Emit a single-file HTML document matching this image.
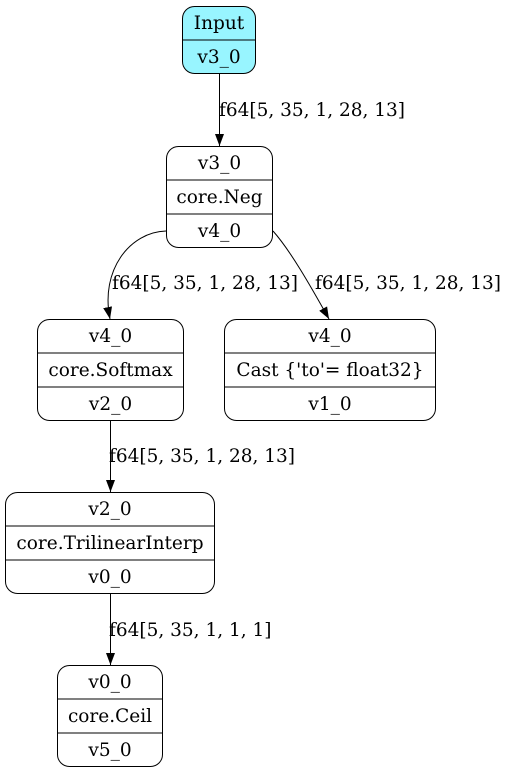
<!DOCTYPE html>
<html><head><meta charset="utf-8"><style>
html,body{margin:0;padding:0;background:#fff;}
svg text{font-family:"DejaVu Serif",serif;font-size:18.5px;fill:#000;}
</style></head><body>
<svg width="510" height="774" viewBox="0 0 510 774" xmlns="http://www.w3.org/2000/svg">
<defs><marker id="a" markerWidth="12" markerHeight="10" refX="12" refY="5" orient="auto" markerUnits="userSpaceOnUse" viewBox="0 0 12 10"><path d="M0,0.5 L12,5 L0,9.5 z" fill="#000"/></marker></defs>
<g fill="none" stroke="#000" stroke-width="1">
<rect x="182.5" y="6.5" width="73" height="67" rx="12" fill="#98f5ff"/>
<line x1="182.5" y1="40" x2="255.5" y2="40"/>
<rect x="166.5" y="146.5" width="106" height="101" rx="12"/>
<line x1="166.5" y1="180" x2="272.5" y2="180"/><line x1="166.5" y1="214" x2="272.5" y2="214"/>
<rect x="37.5" y="319.5" width="146" height="101" rx="12"/>
<line x1="37.5" y1="353" x2="183.5" y2="353"/><line x1="37.5" y1="387" x2="183.5" y2="387"/>
<rect x="224.5" y="319.5" width="211" height="101" rx="12"/>
<line x1="224.5" y1="353" x2="435.5" y2="353"/><line x1="224.5" y1="387" x2="435.5" y2="387"/>
<rect x="5.5" y="492.5" width="209" height="101" rx="12"/>
<line x1="5.5" y1="526" x2="214.5" y2="526"/><line x1="5.5" y1="560" x2="214.5" y2="560"/>
<rect x="57.5" y="665.5" width="105" height="101" rx="12"/>
<line x1="57.5" y1="699" x2="162.5" y2="699"/><line x1="57.5" y1="733" x2="162.5" y2="733"/>
<line x1="219.5" y1="74" x2="219.5" y2="146" marker-end="url(#a)"/>
<path d="M166,231 C130,232 100,270 110,319" marker-end="url(#a)"/>
<path d="M273,231 C290,250 310,285 329,319" marker-end="url(#a)"/>
<line x1="110.5" y1="421" x2="110.5" y2="492" marker-end="url(#a)"/>
<line x1="110.5" y1="594" x2="110.5" y2="665" marker-end="url(#a)"/>
</g>
<g text-anchor="middle">
<text x="219" y="29">Input</text><text x="219" y="63">v3_0</text>
<text x="219.5" y="169">v3_0</text><text x="219.5" y="203">core.Neg</text><text x="219.5" y="237">v4_0</text>
<text x="110.5" y="342">v4_0</text><text x="110.5" y="376">core.Softmax</text><text x="110.5" y="410">v2_0</text>
<text x="330" y="342">v4_0</text><text x="330" y="376">Cast {'to'= float32}</text><text x="330" y="410">v1_0</text>
<text x="110" y="515">v2_0</text><text x="110" y="549">core.TrilinearInterp</text><text x="110" y="583">v0_0</text>
<text x="110" y="688">v0_0</text><text x="110" y="722">core.Ceil</text><text x="110" y="756">v5_0</text>
</g>
<text x="219" y="116">f64[5, 35, 1, 28, 13]</text>
<text x="112" y="289">f64[5, 35, 1, 28, 13]</text>
<text x="315" y="289">f64[5, 35, 1, 28, 13]</text>
<text x="109" y="462">f64[5, 35, 1, 28, 13]</text>
<text x="109" y="636">f64[5, 35, 1, 1, 1]</text>
</svg>
</body></html>
